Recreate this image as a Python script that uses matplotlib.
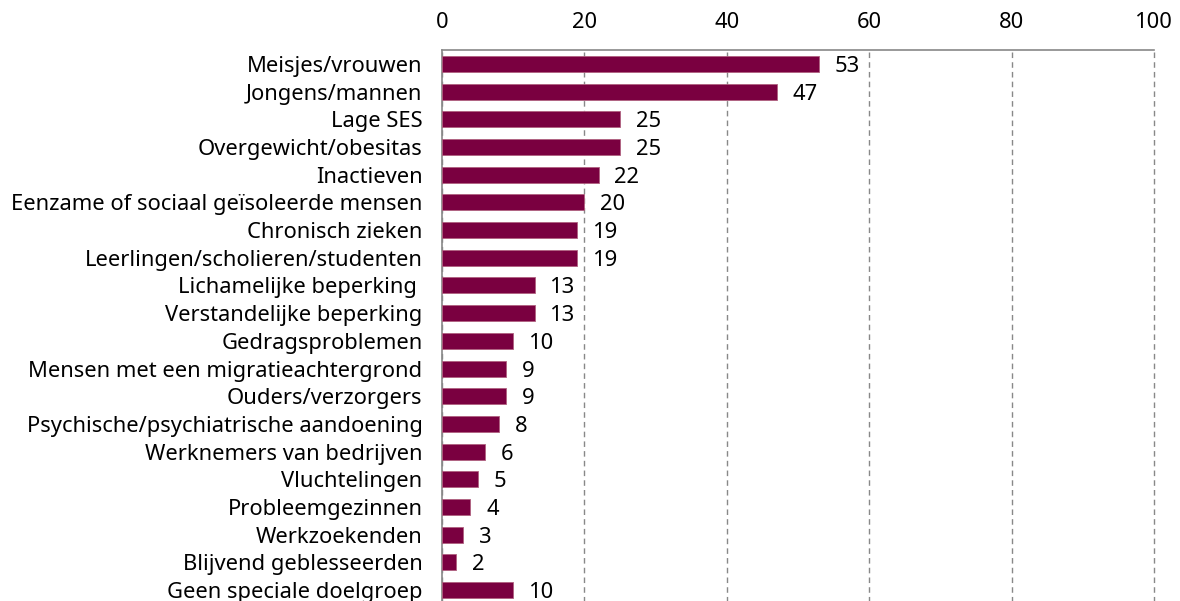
import matplotlib
matplotlib.use('Agg')
import matplotlib.pyplot as plt

# doelgroepen en percentages
groepen = ['Meisjes/vrouwen', 'Jongens/mannen', 'Lage SES', 'Overgewicht/obesitas',
           'Inactieven', 'Eenzame of sociaal geïsoleerde mensen', 'Chronisch zieken',
           'Leerlingen/scholieren/studenten', 'Lichamelijke beperking ',
           'Verstandelijke beperking', 'Gedragsproblemen',
           'Mensen met een migratieachtergrond', 'Ouders/verzorgers',
           'Psychische/psychiatrische aandoening', 'Werknemers van bedrijven',
           'Vluchtelingen', 'Probleemgezinnen', 'Werkzoekenden',
           'Blijvend geblesseerden', 'Geen speciale doelgroep']
waarden = [53, 47, 25, 25, 22, 20, 19, 19, 13, 13, 10, 9, 9, 8, 6, 5, 4, 3, 2, 10]
xticks = [0, 20, 40, 60, 80, 100]

plt.rcParams['font.family'] = ['Noto Sans', 'DejaVu Sans']
fs = 15.8

fig = plt.figure(figsize=(11.8, 6.01), dpi=100)
ax = fig.add_axes([442 / 1180, -0.005, (1154 - 442) / 1180, 0.9168 + 0.005])

pos = list(range(len(groepen)))
ax.barh(pos, waarden, height=0.58, color='#7a0040', edgecolor='#b0607f', linewidth=0.6, zorder=3)
for p, w in zip(pos, waarden):
    ax.text(w + 2.2, p, str(w), va='center_baseline', ha='left', fontsize=fs)

ax.set_ylim(len(groepen) - 0.5, -0.5)
ax.set_xlim(0, 100)
ax.set_yticks(pos)
ax.set_yticklabels(groepen, fontsize=fs, va='center_baseline')
ax.set_xticks(xticks)
ax.xaxis.tick_top()
ax.tick_params(axis='x', length=0, pad=12, labelsize=fs)
ax.tick_params(axis='y', length=0, pad=14)

ax.grid(axis='x', color='#888888', linestyle=(0, (4, 3)), linewidth=1, zorder=0)
for gl in ax.get_xgridlines():
    gl.set_clip_on(False)
ax.spines['right'].set_visible(False)
ax.spines['bottom'].set_visible(False)
ax.spines['top'].set_color('#888888')
ax.spines['left'].set_color('#888888')
ax.spines['top'].set_linewidth(1.2)
ax.spines['left'].set_linewidth(1.2)

fig.savefig('out.png', dpi=100)
